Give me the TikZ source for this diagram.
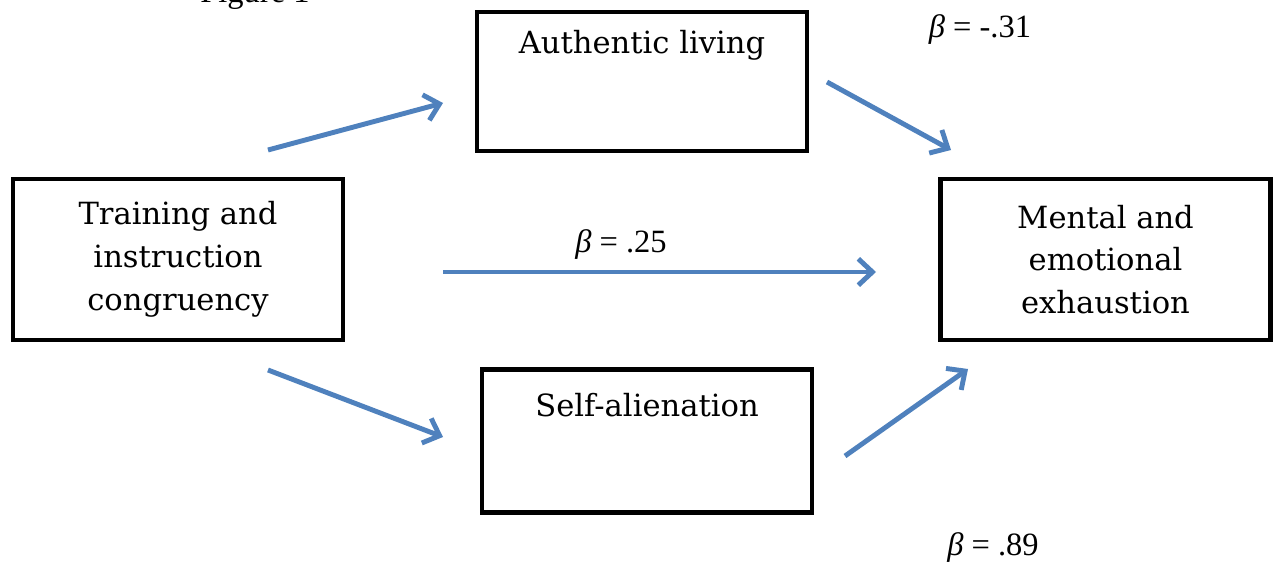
\documentclass[tikz,border=0pt]{standalone}
\usepackage{fontspec}
\setmainfont{DejaVu Serif}
\newfontfamily\tnr{Liberation Serif}
\usetikzlibrary{arrows.meta}
\definecolor{arrowblue}{HTML}{4F81BD}
\tikzset{
	box/.style={draw, line width=2.7pt, minimum width=6.6cm, inner sep=0pt},
	txt/.style={align=center, font=\fontsize{17.4}{24.4}\selectfont},
	link/.style={draw=arrowblue, line width=2.8pt, -{Straight Barb[length=8pt,width=15pt]}},
	beta/.style={font=\tnr\fontsize{18.5}{22}\selectfont}
}
\begin{document}
\begin{tikzpicture}[x=0.02cm, y=-0.02cm]
					\useasboundingbox (0,0) rectangle (1274,567);
					\node[beta, anchor=base] (fig) at (255,3) {Figure 1};
					\node[box, minimum height=2.78cm] (auth) at (642,81.5) {};
					\node[txt] (authtxt) at (642,45) {Authentic living};
					\node[box, txt, minimum height=3.22cm] (train) at (178,259.5) {Training and\\instruction\\congruency};
					\node[box, txt, minimum height=3.22cm] (ment) at (1105.5,259.5) {Mental and\\emotional\\exhaustion};
					\node[box, minimum height=2.86cm] (self) at (647,441) {};
					\node[txt] (selftxt) at (647,405) {Self-alienation};
					\coordinate (a1) at (268,150);
					\coordinate (a2) at (443,103);
					\coordinate (b1) at (827,82);
					\coordinate (b2) at (951,150);
					\coordinate (c1) at (443,272);
					\coordinate (c2) at (876,272);
					\coordinate (d1) at (268,370);
					\coordinate (d2) at (443,437);
					\coordinate (e1) at (845,456);
					\coordinate (e2) at (968,369);
					\draw[link] (a1) -- (a2);
					\draw[link] (b1) -- (b2);
					\draw[link] (c1) -- (c2);
					\draw[link] (d1) -- (d2);
					\draw[link] (e1) -- (e2);
					\node[beta] (beta1) at (980,30) {{\itshape β} = -.31};
					\node[beta] (beta2) at (621,245) {{\itshape β} = .25};
					\node[beta] (beta3) at (993,548) {{\itshape β} = .89};
			\end{tikzpicture}
\end{document}
